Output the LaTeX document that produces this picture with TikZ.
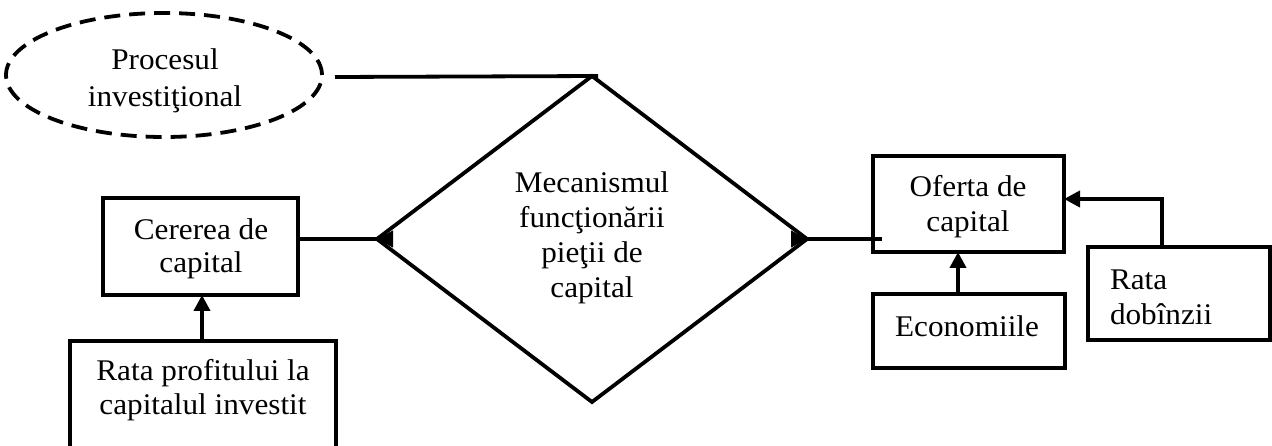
\documentclass[tikz,border=0pt]{standalone}
\usepackage{fontspec}
\setmainfont{Liberation Serif}[FakeStretch=1.04]
\usetikzlibrary{shapes.geometric,arrows.meta,calc}
\newcommand{\mylines}[3][c]{{\fontsize{30}{#2}\selectfont\begin{tabular}[t]{@{}#1@{}}#3\end{tabular}}}
\tikzset{
  ln/.style={line width=3.8pt, black},
  box/.style={ln, draw, rectangle, inner sep=0pt, outer sep=0pt},
  tip/.style={ln, -{Triangle[length=16pt,width=16pt]}},
  lbl/.style={inner sep=0pt, outer sep=0pt, anchor=base},
}
\begin{document}
\begin{tikzpicture}[x=1pt,y=-1pt]
\useasboundingbox (0,0) rectangle (1272,446);
\clip (0,0) rectangle (1272,446);
% shapes
\node[ellipse, draw, ln, dash pattern=on 16pt off 9pt, minimum width=316pt, minimum height=124pt, inner sep=0pt, outer sep=0pt] (ell) at (164,75) {};
\node[diamond, draw, ln, minimum width=430pt, minimum height=326pt, inner sep=0pt, outer sep=0pt] (dia) at (592,239) {};
\node[box, minimum width=195pt, minimum height=97pt] (cer) at (200.5,246.5) {};
\node[box, minimum width=266pt, minimum height=118pt] (prof) at (203,400) {};
\node[box, minimum width=191pt, minimum height=96pt] (ofe) at (968.5,204) {};
\node[box, minimum width=192pt, minimum height=74pt] (eco) at (969,331) {};
\node[box, minimum width=182pt, minimum height=93pt] (rat) at (1179,293.5) {};
% texts
\node[lbl] (ellT) at (165,70) {\mylines{37}{Procesul\\investiţional}};
\node[lbl] (diaT) at (592,193) {\mylines{35}{Mecanismul\\funcţionării\\pieţii de\\capital}};
\node[lbl] (cerT) at (201,240) {\mylines{33}{Cererea de\\capital}};
\node[lbl] (profT) at (203,380) {\mylines{35}{Rata profitului la\\capitalul investit}};
\node[lbl] (ofeT) at (968,197) {\mylines{35}{Oferta de\\capital}};
\node[lbl] (ecoT) at (967,337) {\mylines{35}{Economiile}};
\node[lbl, anchor=base west] (ratT) at (1110,290) {\mylines[l]{35}{Rata\\dobînzii}};
% connectors
\coordinate (lnS) at (335,77);
\draw[ln] (lnS) -- ([xshift=6pt]dia.north);
\draw[ln] (cer.east |- dia.west) -- (dia.west);
\draw[tip] ([xshift=14pt]dia.west) -- (dia.west);
\draw[ln] (dia.east) -- ([xshift=9pt]dia.east -| ofe.west);
\draw[tip] ([xshift=-14pt]dia.east) -- (dia.east);
\draw[tip] (prof.north -| 202,0) -- (cer.south -| 202,0);
\draw[tip] ([xshift=-11pt]eco.north) -- ([xshift=-11pt]eco.north |- ofe.south);
\draw[tip] ([xshift=-17pt]rat.north) |- ([yshift=5pt]ofe.east);
\end{tikzpicture}
\end{document}
